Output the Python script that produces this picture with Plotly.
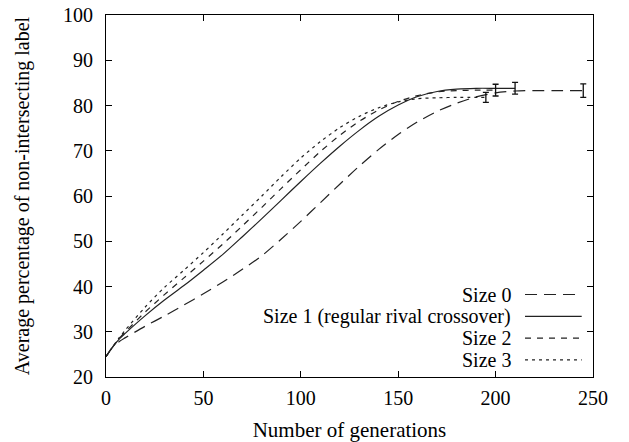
import plotly.graph_objects as go

# ---------------- data ----------------
gens_s0 = [0, 3, 7, 10, 20, 30, 40, 50, 60, 70, 80, 90, 100, 110, 120, 130, 140,
           150, 160, 170, 180, 190, 200, 210, 220, 230, 245]
size0 = [24.5, 26.4, 27.9, 28.7, 31.2, 33.5, 35.9, 38.4, 41.0, 43.8, 46.8, 50.5,
         54.4, 58.5, 62.6, 66.6, 70.3, 73.6, 76.4, 78.7, 80.5, 81.9, 82.8, 83.2,
         83.3, 83.3, 83.3]

gens_s1 = [0, 3, 7, 10, 20, 30, 40, 50, 60, 70, 80, 90, 100, 110, 120, 130, 140,
           150, 160, 170, 180, 190, 200, 210]
size1 = [24.5, 26.4, 28.5, 29.7, 33.5, 37.0, 40.2, 43.6, 47.1, 51.0, 55.0, 59.1,
         63.2, 67.2, 71.0, 74.5, 77.6, 80.1, 82.0, 83.1, 83.6, 83.8, 83.8, 83.8]

gens_s2 = [0, 3, 7, 10, 20, 30, 40, 50, 60, 70, 80, 90, 100, 110, 120, 130, 140,
           150, 160, 170, 180, 190, 200]
size2 = [24.5, 26.4, 28.6, 30.0, 34.3, 38.2, 41.9, 45.6, 49.4, 53.4, 57.5, 61.7,
         65.8, 69.8, 73.4, 76.5, 79.0, 80.9, 82.2, 83.0, 83.3, 83.4, 83.4]

gens_s3 = [0, 3, 7, 10, 20, 30, 40, 50, 60, 70, 80, 90, 100, 110, 120, 130, 140,
           150, 160, 170, 180, 195]
size3 = [24.5, 26.4, 28.8, 30.4, 35.4, 39.8, 43.6, 47.5, 51.6, 55.8, 60.0, 64.3,
         68.4, 72.0, 75.1, 77.6, 79.5, 80.8, 81.5, 81.7, 81.8, 81.8]

# error bars at the end of each run (sizes 0..3)
eb_gen = [245, 210, 200, 195]
eb_val = [83.3, 83.8, 83.4, 81.8]
eb_err = [1.5, 1.3, 1.3, 1.1]

labels = ["Size 0", "Size 1 (regular rival crossover)", "Size 2", "Size 3"]
dashes = ["12px,7px", "solid", "6px,6px", "3px,4px"]

x_ticks = [0, 50, 100, 150, 200, 250]
y_ticks = [20, 30, 40, 50, 60, 70, 80, 90, 100]

# ---------------- figure ----------------
FONT = "Liberation Serif"
LC = "#222222"

fig = go.Figure()
series = [(gens_s0, size0), (gens_s1, size1), (gens_s2, size2), (gens_s3, size3)]
for (gx, gy), lab, d in zip(series, labels, dashes):
    fig.add_trace(go.Scatter(
        x=gx, y=gy, mode="lines", name=lab,
        line=dict(color=LC, width=1.2, dash=d, shape="spline", smoothing=0.8),
        showlegend=False, hoverinfo="skip"))

for g, v, e in zip(eb_gen, eb_val, eb_err):
    fig.add_trace(go.Scatter(
        x=[g], y=[v], mode="markers", marker=dict(size=1, color="rgba(0,0,0,0)"),
        error_y=dict(type="data", array=[e], visible=True, color="#111111",
                     thickness=1.3, width=3),
        showlegend=False, hoverinfo="skip"))

# manual gnuplot-style legend (text right-aligned, sample on the right)
leg_y = [0.2279, 0.1677, 0.1075, 0.0472]
shapes = []
annotations = []
for lab, d, yy in zip(labels, dashes, leg_y):
    annotations.append(dict(
        x=0.833, y=yy, xref="paper", yref="paper", text=lab, showarrow=False,
        xanchor="right", yanchor="middle", borderpad=0,
        font=dict(family=FONT, size=20, color="black")))
    shapes.append(dict(
        type="line", xref="paper", yref="paper", x0=0.8604, x1=0.9768, y0=yy, y1=yy,
        line=dict(color=LC, width=1.2, dash=d)))

axis_common = dict(
    showline=True, linecolor="black", linewidth=1, mirror="ticks",
    ticks="inside", ticklen=6, tickcolor="black", tickwidth=1,
    showgrid=False, zeroline=False,
    tickfont=dict(family=FONT, size=20, color="black"),
)

fig.update_layout(
    width=629, height=442,
    margin=dict(l=106, r=36, t=15, b=65, autoexpand=False),
    paper_bgcolor="white", plot_bgcolor="white",
    font=dict(family=FONT, size=20, color="black"),
    shapes=shapes, annotations=annotations,
    xaxis=dict(range=[0, 250], tickvals=x_ticks, ticklabelstandoff=3,
               title=dict(text="Number of generations", standoff=16,
                          font=dict(family=FONT, size=21, color="black")),
               **axis_common),
    yaxis=dict(range=[20, 100], tickvals=y_ticks, ticklabelstandoff=8,
               title=dict(text="Average percentage of non-intersecting label",
                          standoff=28,
                          font=dict(family=FONT, size=20, color="black")),
               **axis_common),
)

fig.write_html("out.html")
